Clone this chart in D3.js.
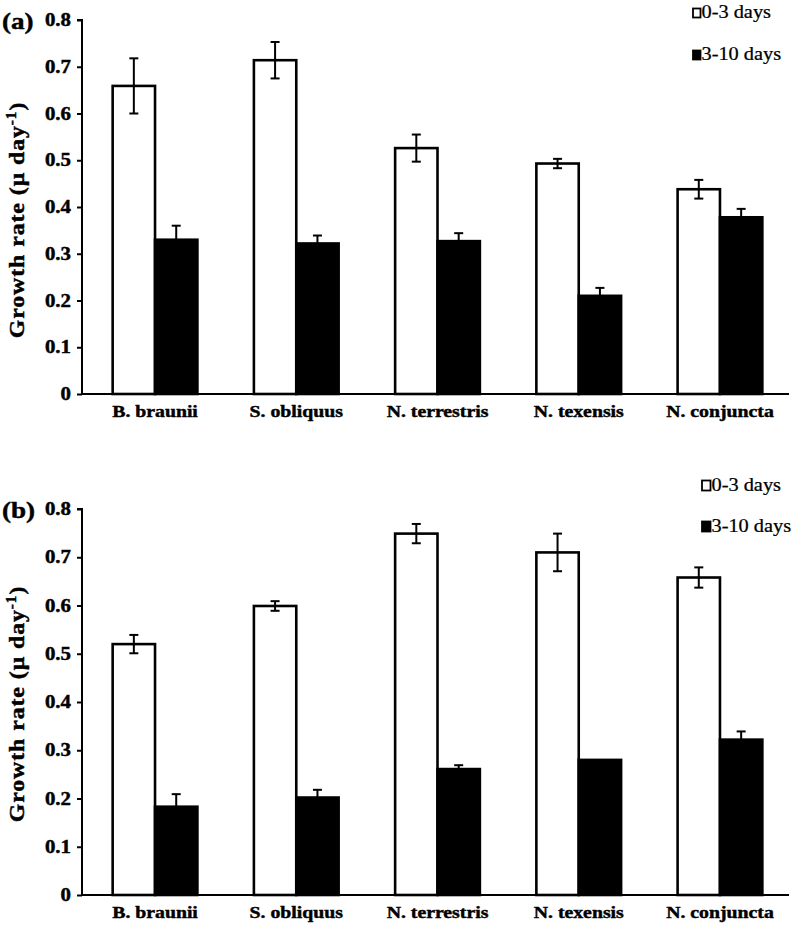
<!DOCTYPE html>
<html><head><meta charset="utf-8">
<script src="https://cdn.jsdelivr.net/npm/d3@7"></script>
<style>
body{margin:0;background:#fff}
svg{display:block}
text{font-family:"Liberation Serif","Times New Roman",serif;fill:#000}
text.heavy{stroke:#000;stroke-width:0.45px}
text.semi{stroke:#000;stroke-width:0.25px}
</style>
</head><body>
<svg id="c" width="799" height="929"></svg>
<script>
const categories = ["B. braunii","S. obliquus","N. terrestris","N. texensis","N. conjuncta"];
const seriesNames = ["0-3 days","3-10 days"];
const yTicks = [0,0.1,0.2,0.3,0.4,0.5,0.6,0.7,0.8];
const yTickLabels = ["0","0.1","0.2","0.3","0.4","0.5","0.6","0.7","0.8"];
const panelLabels = ["(a)","(b)"];

const aEarly    = [0.659,0.714,0.526,0.493,0.438];
const aEarlyErr = [0.059,0.039,0.029,0.010,0.020];
const aLate     = [0.330,0.322,0.327,0.210,0.378];
const aLateErr  = [0.030,0.017,0.017,0.017,0.018];

const bEarly    = [0.520,0.599,0.749,0.710,0.658];
const bEarlyErr = [0.019,0.010,0.020,0.039,0.021];
const bLate     = [0.183,0.202,0.261,0.280,0.322];
const bLateErr  = [0.026,0.016,0.008,0.000,0.017];

const svg = d3.select("#c");
const SX = 1.13; // horizontal glyph widening to match the reference typeface

const panels = [
  {label:panelLabels[0], early:aEarly, earlyErr:aEarlyErr, late:aLate, lateErr:aLateErr,
   top:20, bottom:394, labelBase:28.5, titleMid:220, legX:692, legY:[18,60], sq:[7.5,9]},
  {label:panelLabels[1], early:bEarly, earlyErr:bEarlyErr, late:bLate, lateErr:bLateErr,
   top:509, bottom:895, labelBase:517.5, titleMid:704, legX:701, legY:[491,532], sq:[8.5,10]}
];

const axisX = 82;
const x0 = d3.scaleBand().domain(categories).range([83, 792]).paddingInner(0.4).paddingOuter(0.21);
const x1 = d3.scaleBand().domain(seriesNames).range([0, x0.bandwidth()]).padding(0);
const fills = ["#fff","#000"];

function wideText(g, x, y, txt, opts){
  const t = g.append("text")
    .attr("class", opts.cls || null)
    .attr("transform", `translate(${x},${y}) scale(${opts.sx || SX},1)`)
    .attr("text-anchor", opts.anchor || "start")
    .attr("font-size", opts.size)
    .attr("font-weight", opts.weight || "normal")
    .text(txt);
  if (opts.dy) t.attr("dy", opts.dy);
  return t;
}

panels.forEach(p => {
  const g = svg.append("g");
  const y = d3.scaleLinear().domain([0, 0.8]).range([p.bottom, p.top]);

  // bars
  const rows = categories.map((c,i) => ({c, vals:[
    {s:seriesNames[0], v:p.early[i], e:p.earlyErr[i]},
    {s:seriesNames[1], v:p.late[i], e:p.lateErr[i]}
  ]}));
  const grp = g.selectAll("g.grp").data(rows).join("g")
    .attr("transform", d => `translate(${x0(d.c)},0)`);
  grp.selectAll("rect").data(d => d.vals).join("rect")
    .attr("x", d => x1(d.s))
    .attr("y", d => y(d.v))
    .attr("width", x1.bandwidth())
    .attr("height", d => y(0) - y(d.v))
    .attr("fill", (d,i) => fills[i])
    .attr("stroke", "#000")
    .attr("stroke-width", 2.6);
  // error bars
  const eb = grp.selectAll("g.eb").data(d => d.vals.filter(v => v.e > 0)).join("g")
    .attr("stroke", "#000").attr("stroke-width", 2);
  eb.append("line")
    .attr("x1", d => x1(d.s) + x1.bandwidth()/2).attr("x2", d => x1(d.s) + x1.bandwidth()/2)
    .attr("y1", d => y(d.v + d.e)).attr("y2", d => y(d.v - d.e));
  [1,-1].forEach(sg => {
    eb.append("line")
      .attr("x1", d => x1(d.s) + x1.bandwidth()/2 - 4.5).attr("x2", d => x1(d.s) + x1.bandwidth()/2 + 4.5)
      .attr("y1", d => y(d.v + sg*d.e)).attr("y2", d => y(d.v + sg*d.e));
  });

  // y axis
  const ya = g.append("g").attr("transform", `translate(${axisX},0)`)
    .call(d3.axisLeft(y).tickValues(yTicks).tickSize(5).tickFormat(""));
  ya.select(".domain").attr("stroke-width", 2).attr("d", `M-5,${y(0.8)}H0V${y(0)}`);
  ya.selectAll(".tick line").attr("stroke-width", 2);
  yTicks.forEach((t,i) => {
    wideText(g, axisX - 11, y(t), yTickLabels[i], {anchor:"end", size:18.5, weight:"bold", dy:"0.33em", cls:"heavy"});
  });

  // x axis
  const xa = g.append("g").attr("transform", `translate(0,${y(0)})`)
    .call(d3.axisBottom(x0).tickSize(0).tickFormat(""));
  xa.select(".domain").attr("stroke-width", 2)
    .attr("d", `M${axisX},0H${x0.range()[1]-3}`);
  categories.forEach(c => {
    wideText(g, x0(c) + x0.bandwidth()/2, y(0) + 22.5, c, {anchor:"middle", size:17.5, weight:"bold", cls:"heavy"});
  });

  // panel label
  wideText(g, 2, p.labelBase, p.label, {size:24, weight:"bold", cls:"heavy"});

  // y title
  const tt = g.append("text")
    .attr("class", "heavy")
    .attr("transform", `translate(24,${p.titleMid}) rotate(-90) scale(1.08,1)`)
    .attr("text-anchor", "middle")
    .attr("font-size", 22)
    .attr("font-weight", "bold")
    .attr("letter-spacing", "0.9px");
  tt.append("tspan").text("Growth rate (\u03bc day");
  tt.append("tspan").attr("font-size", 14).attr("dy", -8).text("-1");
  tt.append("tspan").attr("dy", 8).text(")");

  // legend
  seriesNames.forEach((s,i) => {
    g.append("rect")
      .attr("x", p.legX + 1).attr("y", p.legY[i] - p.sq[1] - 0.5)
      .attr("width", p.sq[0]).attr("height", p.sq[1])
      .attr("fill", fills[i]).attr("stroke", "#000").attr("stroke-width", 1.8);
    wideText(g, p.legX + p.sq[0] + 2, p.legY[i], s, {size:18.5, sx:1.1, cls:"semi"});
  });
});
</script>
</body></html>
